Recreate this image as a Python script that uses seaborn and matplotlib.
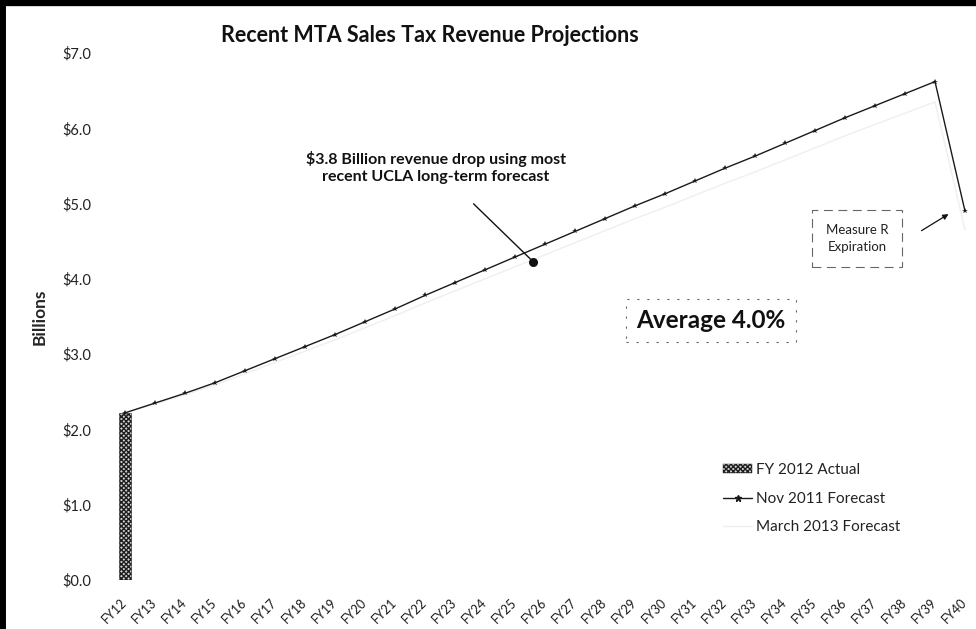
import numpy as np
import pandas as pd
import matplotlib
matplotlib.use("Agg")
import matplotlib.pyplot as plt
from matplotlib.lines import Line2D
from matplotlib.patches import Patch
import seaborn as sns

# fiscal years on the x axis
years = [f"FY{n}" for n in range(12, 41)]

# FY 2012 actual receipts (billions)
actual_fy12 = [2.22]

# Nov 2011 forecast, FY12..FY40 (billions)
nov_2011 = [2.22, 2.35, 2.48, 2.62, 2.78, 2.94, 3.10, 3.26, 3.43, 3.60,
            3.78, 3.95, 4.12, 4.29, 4.46, 4.63, 4.80, 4.97, 5.13, 5.30,
            5.47, 5.63, 5.80, 5.97, 6.14, 6.30, 6.46, 6.62, 4.90]

# March 2013 forecast, FY12..FY40 (billions) - barely visible in the scan
mar_2013 = [2.22, 2.34, 2.46, 2.59, 2.74, 2.89, 3.04, 3.19, 3.35, 3.51,
            3.68, 3.84, 4.00, 4.16, 4.32, 4.48, 4.64, 4.80, 4.95, 5.11,
            5.27, 5.42, 5.58, 5.74, 5.90, 6.05, 6.20, 6.35, 4.65]

y_ticks = [0, 1, 2, 3, 4, 5, 6, 7]

sns.set_theme(style="white")
plt.rcParams["font.family"] = ["Lato", "DejaVu Sans"]

W, H = 976, 629
fig = plt.figure(figsize=(W / 100, H / 100), dpi=100)
fig.patch.set_facecolor("white")

# axes placed in pixel terms: FY12 tick at x=125, 30 px per year; $0 at y=580, $7 at y=53
ax_left, ax_right = 100, 976
ax_bot, ax_top = 580, 53
ax = fig.add_axes([ax_left / W, 1 - ax_bot / H, (ax_right - ax_left) / W, (ax_bot - ax_top) / H])

idx = np.arange(len(years))
df = pd.DataFrame({"idx": idx, "nov": nov_2011, "mar": mar_2013})

# FY12 actual bar
sns.barplot(x=[0], y=actual_fy12, native_scale=True, width=0.4, ax=ax,
            color="#d0d0d0", edgecolor="#222222", linewidth=0.4)
for p in ax.patches:
    p.set_hatch("xxxxxxx")
    p.set_edgecolor("#1e1e1e")

sns.lineplot(data=df, x="idx", y="mar", ax=ax, color="#efefef", lw=1.0)
sns.lineplot(data=df, x="idx", y="nov", ax=ax, color="#1a1a1a", lw=1.0,
             marker="*", markersize=4, markeredgewidth=0)

ax.set_xlim(-(125 - ax_left) / 30, (ax_right - 125) / 30)
ax.set_ylim(0, 7)
ax.set_xticks(idx)
ax.set_xticklabels(years, rotation=45, ha="right", va="center",
                   rotation_mode="anchor", fontsize=9, color="#1a1a1a")
ax.set_yticks(y_ticks)
ax.set_yticklabels([f"${v:.1f}" for v in y_ticks], fontsize=10.5, color="#222222")
ax.tick_params(axis="x", length=0, pad=15)
ax.tick_params(axis="y", length=0, pad=6)
for s in ax.spines.values():
    s.set_visible(False)
ax.set_xlabel("")
ax.set_ylabel("Billions", fontsize=12.5, fontweight="bold", labelpad=11)
if ax.get_legend():
    ax.get_legend().remove()

fig.text(430 / W, 1 - 35 / H, "Recent MTA Sales Tax Revenue Projections",
         ha="center", va="center", fontsize=15.5, fontweight="bold", color="#111111")

# revenue drop callout
ax.annotate("$3.8 Billion revenue drop using most\nrecent UCLA long-term forecast",
            xy=(13.6, 4.23), xytext=(10.37, 5.48), ha="center", va="center",
            fontsize=11.5, fontweight="bold", color="#111111", linespacing=1.3,
            arrowprops=dict(arrowstyle="-", color="#111111", lw=1.0,
                            shrinkA=17, shrinkB=0))
ax.plot([13.6], [4.23], marker="o", ms=5.5, color="#111111")

ax.text(19.53, 3.45, "Average 4.0%", ha="center", va="center", fontsize=17.5,
        fontweight="bold", color="#111111",
        bbox=dict(boxstyle="square,pad=0.42", fc="white", ec="#666666",
                  lw=0.8, ls=(0, (2, 7))))

# Measure R expiration note with its own arrow
ax.text(24.4, 4.54, "Measure R\nExpiration", ha="center", va="center",
        fontsize=9.5, color="#222222", linespacing=1.5,
        bbox=dict(boxstyle="square,pad=1.05", fc="white", ec="#666666",
                  lw=0.8, ls=(0, (8, 5))))
ax.annotate("", xy=(27.45, 4.86), xytext=(26.55, 4.64),
            arrowprops=dict(arrowstyle="-|>", color="#111111", lw=0.9,
                            mutation_scale=8, shrinkA=0, shrinkB=0))

handles = [
    Patch(facecolor="#d0d0d0", edgecolor="#1e1e1e", hatch="xxxxxxx", lw=0.3),
    Line2D([], [], color="#1a1a1a", lw=1.0, marker="*", markersize=5),
    Line2D([], [], color="#efefef", lw=1.0),
]
labels = ["FY 2012 Actual", "Nov 2011 Forecast", "March 2013 Forecast"]
fig.legend(handles, labels, loc="upper left",
           bbox_to_anchor=(723 / W, 1 - 463 / H), frameon=False,
           borderpad=0, borderaxespad=0,
           fontsize=11, labelspacing=0.95, handlelength=1.9, handletextpad=0.25,
           handleheight=0.5, labelcolor="#222222")

# scanned page frame: heavy edge on the left and top
fig.add_artist(Line2D([2 / W, 2 / W], [0, 1], transform=fig.transFigure,
                      color="black", lw=5))
fig.add_artist(Line2D([0, 1], [1 - 2 / H, 1 - 2 / H], transform=fig.transFigure,
                      color="black", lw=6))

fig.savefig("out.png", dpi=100, facecolor="white")
